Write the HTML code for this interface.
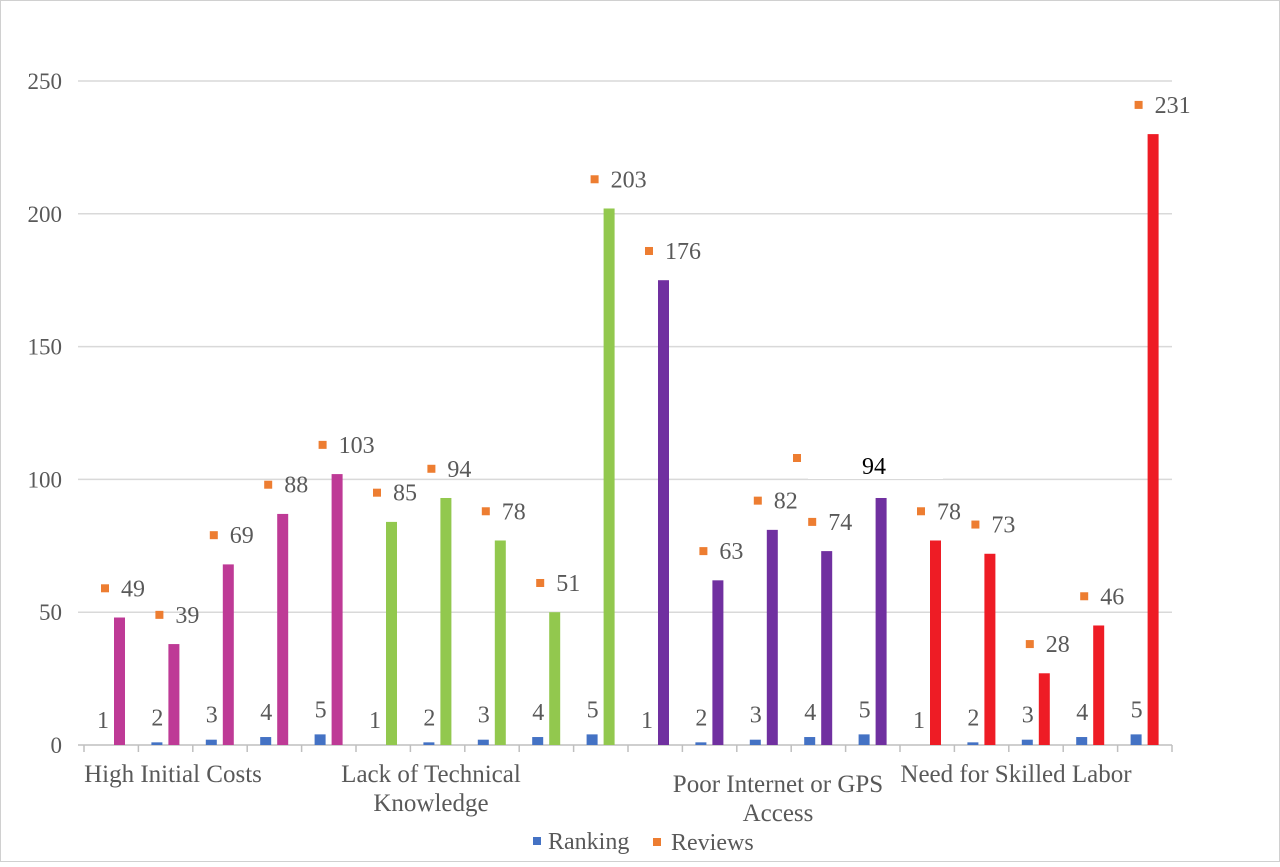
<!DOCTYPE html>
<html><head><meta charset="utf-8"><style>
body{margin:0;background:#fff;}
svg text{font-family:"Liberation Serif",serif;fill:#595959;}
</style></head><body>
<svg id="chart" width="1280" height="862" xmlns="http://www.w3.org/2000/svg">
<rect x="0.5" y="0.5" width="1279" height="861" fill="#fff" stroke="#d0d0d0"/>
<g id="grid"></g><g id="marks"></g><g id="labels"></g>
</svg>
<script>
const categories=["High Initial Costs","Lack of Technical|Knowledge","Poor Internet or GPS|Access","Need for Skilled Labor"];
const reviews=[49,39,69,88,103,85,94,78,51,203,176,63,82,74,94,78,73,28,46,231];
const ranks=[1,2,3,4,5,1,2,3,4,5,1,2,3,4,5,1,2,3,4,5];
const yTicks=[0,50,100,150,200,250];
const groupColors=["#BE3A96","#92C84E","#7030A0","#EE1C25"];
const NS="http://www.w3.org/2000/svg";
const x0=84,slot=54.4,yBase=745,yTop=81,yMax=250;
const y=v=>yBase-(v/yMax)*(yBase-yTop);
const sx=i=>x0+i*slot;
function mk(tag,attrs,parent,txt){const e=document.createElementNS(NS,tag);for(const k in attrs)e.setAttribute(k,attrs[k]);if(txt!==undefined)e.textContent=txt;parent.appendChild(e);return e;}
const G=document.getElementById('grid'),M=document.getElementById('marks'),L=document.getElementById('labels');
yTicks.forEach(t=>{
 const l=mk('line',{x1:78,x2:1172,y1:y(t),y2:y(t),stroke:t===0?'#bfbfbf':'#d9d9d9','stroke-width':1.5},G);
 
 
 const tx=mk('text',{x:62,y:y(t)+8,'text-anchor':'end','font-size':23},G,String(t));
 
 
});
for(let i=0;i<=20;i++){const l=mk('line',{x1:sx(i),x2:sx(i),y1:yBase,y2:yBase+7,stroke:'#bfbfbf','stroke-width':1.5},G);
 
 }
reviews.forEach((v,i)=>{
 const L0=sx(i);const col=groupColors[Math.floor(i/5)];
 const rh=(ranks[i]-1)*(y(0)-y(1));
 const b=mk('rect',{x:L0+13,y:yBase-Math.max(rh,0),width:11,height:Math.max(rh,0),fill:'#4472C4'},M);
 
 
 const r=mk('rect',{x:L0+30,y:y(v-1),width:11,height:yBase-y(v-1),fill:col},M);
 
 
 const rl=mk('text',{x:L0+19,y:yBase-17-Math.max(rh,0),'text-anchor':'middle','font-size':24},L,String(ranks[i]));
 
 
 let mx=L0+21,my=y(v+10),lx=L0+37,ly=y(v+10)+8,fill='#595959';
 if(i===14){mx=797;my=458;lx=862;ly=474;fill='#000';
   const bg=mk('rect',{x:808,y:449,width:135,height:30,fill:'#fff'},L);
   
   }
 const m=mk('rect',{x:mx-4,y:my-4,width:8,height:8,fill:'#ED7D31'},M);
 
 
 const vl=mk('text',{x:lx,y:ly,'font-size':24,style:'fill:'+fill},L,String(v));
 
 
});
const catPos=[[173,782],[431,782],[778,792],[1016,782]];
categories.forEach((c,k)=>{
 const t=mk('text',{x:catPos[k][0],y:catPos[k][1],'text-anchor':'middle','font-size':25},L);
 
 
 c.split('|').forEach((p,j)=>{mk('tspan',{x:catPos[k][0],dy:j?29:0},t,p);});
});
const lg1=mk('rect',{x:533,y:837,width:8,height:8,fill:'#4472C4'},L);


const lt1=mk('text',{x:548,y:849,'font-size':24},L,'Ranking');


const lg2=mk('rect',{x:653,y:838,width:8,height:8,fill:'#ED7D31'},L);


const lt2=mk('text',{x:671,y:850,'font-size':24},L,'Reviews');


</script>
</body></html>
